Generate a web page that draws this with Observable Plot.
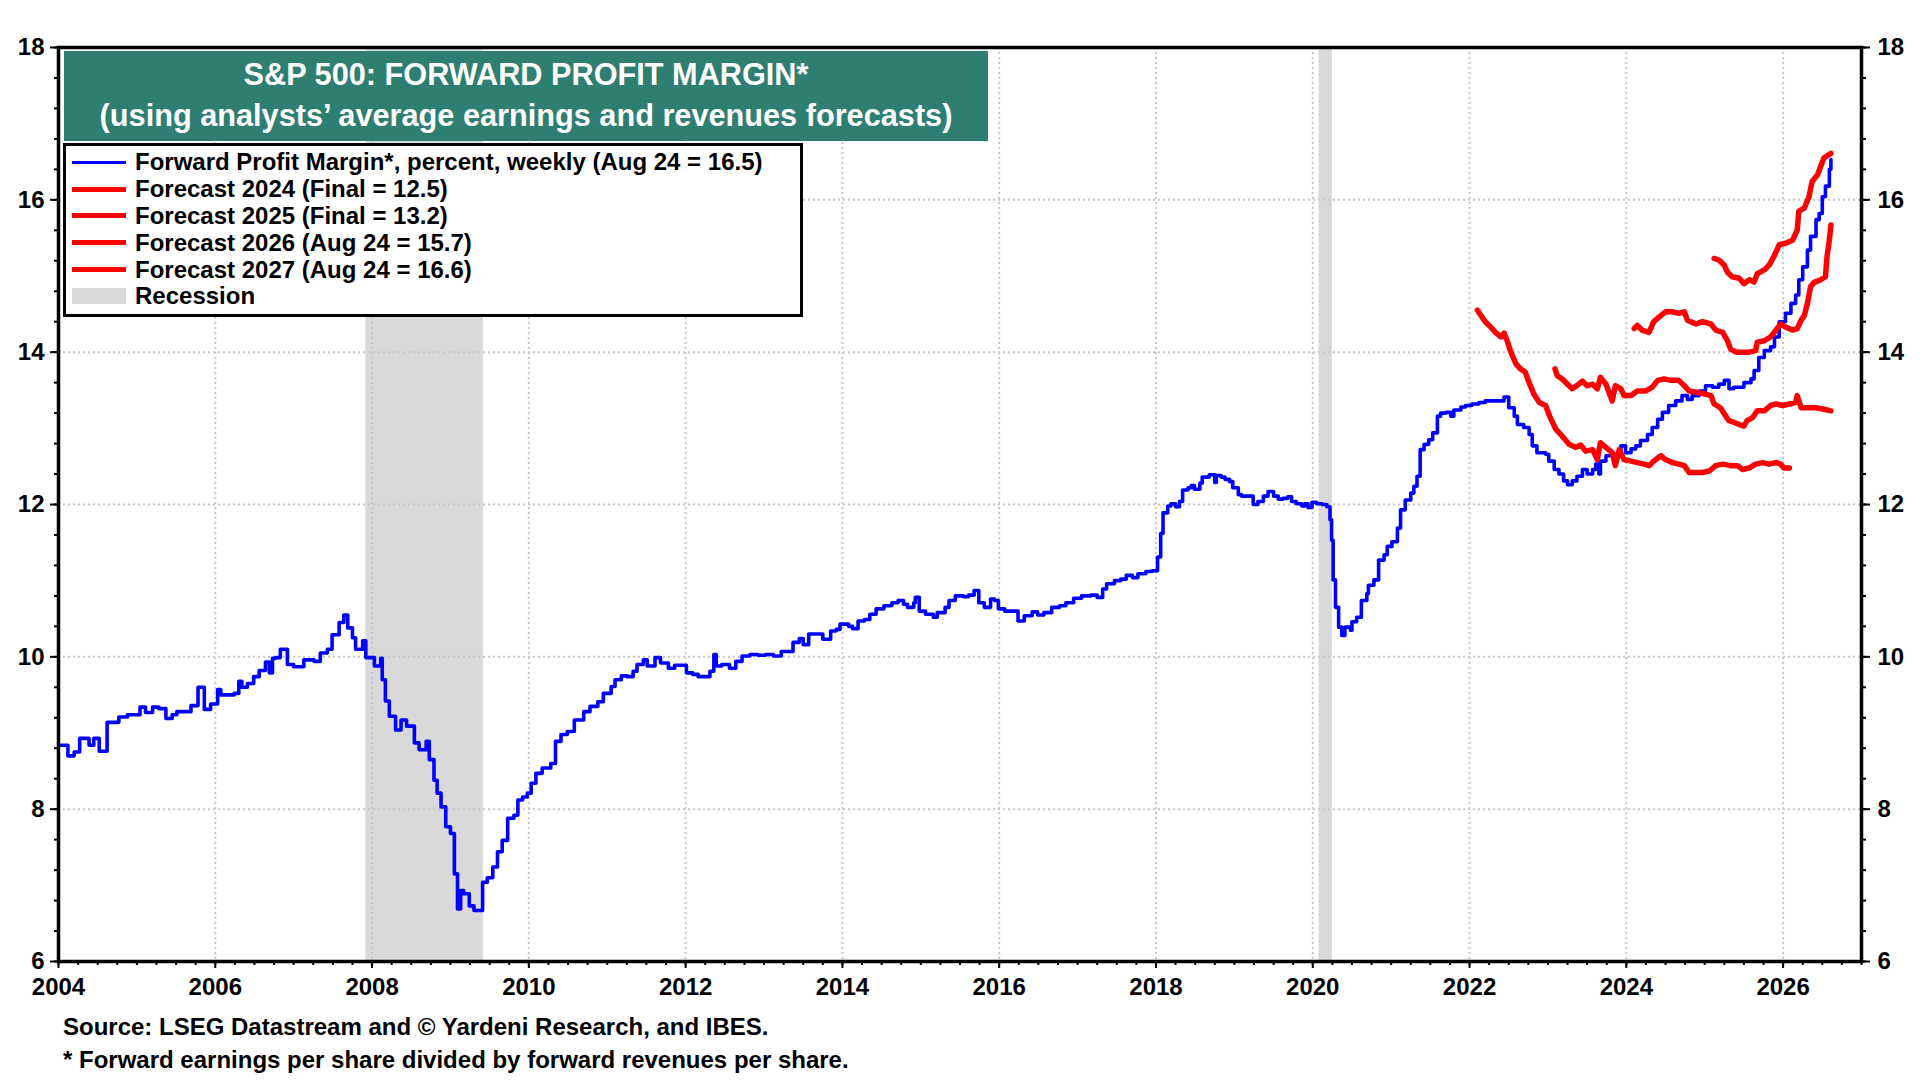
<!DOCTYPE html>
<html><head><meta charset="utf-8">
<script src="https://cdn.jsdelivr.net/npm/d3@7"></script>
<script src="https://cdn.jsdelivr.net/npm/@observablehq/plot@0.6"></script>
<style>
body{margin:0;background:#fff;}
#wrap{position:relative;width:1920px;height:1080px;overflow:hidden;font-family:"Liberation Sans",Arial,sans-serif;font-weight:bold;color:#000}
#chart{position:absolute;left:0;top:0}
#title{position:absolute;left:64px;top:51px;width:924px;height:90px;background:#2e7e71;color:#fff;text-align:center;font-size:30.7px;line-height:41px;padding-top:3px;box-sizing:border-box}
#legend{position:absolute;left:63px;top:143px;width:740px;height:174px;border:3px solid #000;background:#fff;box-sizing:border-box;padding-top:3px;padding-left:6px}
.row{height:26.8px;display:flex;align-items:center;font-size:24px;white-space:nowrap}
.sw{width:54px;margin-right:9px;flex:none}
#caption{position:absolute;left:63px;top:1010px;font-size:24px;line-height:33px}
</style></head>
<body><div id="wrap"><div id="chart"></div>
<div id="title"></div>
<div id="legend"></div>
<div id="caption"></div>
</div>
<script>
// ---- Data (decimal year, percent) ----
const forwardMargin = [
[2004.03,8.84],[2004.12,8.70],[2004.20,8.75],[2004.27,8.93],[2004.39,8.84],[2004.45,8.93],[2004.52,8.76],[2004.62,9.14],[2004.77,9.21],[2004.88,9.24],
[2005.04,9.34],[2005.11,9.27],[2005.20,9.34],[2005.28,9.32],[2005.37,9.19],[2005.45,9.24],[2005.51,9.28],[2005.69,9.36],[2005.78,9.60],[2005.86,9.31],[2005.94,9.38],
[2006.03,9.57],[2006.07,9.50],[2006.24,9.52],[2006.30,9.68],[2006.34,9.60],[2006.41,9.65],[2006.49,9.74],[2006.56,9.82],[2006.64,9.93],[2006.69,9.79],[2006.73,9.98],[2006.77,9.99],[2006.83,10.10],[2006.92,9.90],
[2007.00,9.87],[2007.13,9.96],[2007.26,9.94],[2007.34,10.05],[2007.43,10.10],[2007.49,10.29],[2007.58,10.45],[2007.64,10.55],[2007.69,10.38],[2007.75,10.25],[2007.79,10.10],[2007.88,10.21],[2007.92,9.99],
[2008.03,9.88],[2008.11,9.98],[2008.13,9.70],[2008.17,9.42],[2008.22,9.22],[2008.30,9.04],[2008.37,9.17],[2008.44,9.09],[2008.54,8.87],[2008.60,8.78],[2008.69,8.89],[2008.73,8.65],[2008.79,8.38],[2008.83,8.21],[2008.88,8.03],[2008.94,7.77],
[2009.00,7.68],[2009.05,7.15],[2009.09,6.69],[2009.13,6.93],[2009.17,6.89],[2009.24,6.73],[2009.30,6.67],[2009.39,6.67],[2009.41,7.04],[2009.47,7.10],[2009.54,7.24],[2009.60,7.44],[2009.66,7.59],[2009.73,7.88],[2009.81,7.92],[2009.86,8.12],[2009.92,8.16],[2009.98,8.21],
[2010.03,8.34],[2010.09,8.47],[2010.17,8.54],[2010.28,8.60],[2010.34,8.89],[2010.41,8.98],[2010.49,9.02],[2010.58,9.17],[2010.70,9.28],[2010.78,9.35],[2010.88,9.41],[2010.95,9.52],
[2011.05,9.61],[2011.10,9.70],[2011.18,9.75],[2011.25,9.74],[2011.33,9.81],[2011.38,9.90],[2011.46,9.96],[2011.51,9.88],[2011.61,9.99],[2011.68,9.92],[2011.78,9.85],[2011.86,9.89],[2011.96,9.89],
[2012.01,9.79],[2012.09,9.77],[2012.16,9.74],[2012.24,9.74],[2012.31,9.81],[2012.36,10.03],[2012.39,9.88],[2012.46,9.90],[2012.56,9.85],[2012.64,9.94],[2012.72,10.01],[2012.82,10.03],[2012.92,10.02],
[2013.02,10.03],[2013.12,10.01],[2013.22,10.07],[2013.32,10.07],[2013.37,10.19],[2013.45,10.24],[2013.50,10.16],[2013.57,10.30],[2013.70,10.30],[2013.75,10.23],[2013.85,10.34],[2013.92,10.36],[2013.97,10.43],
[2014.08,10.40],[2014.13,10.37],[2014.20,10.47],[2014.28,10.49],[2014.35,10.56],[2014.43,10.63],[2014.53,10.67],[2014.63,10.71],[2014.71,10.74],[2014.78,10.69],[2014.83,10.65],[2014.91,10.71],[2014.93,10.78],[2014.98,10.60],
[2015.06,10.56],[2015.16,10.52],[2015.21,10.58],[2015.31,10.65],[2015.36,10.74],[2015.44,10.80],[2015.54,10.79],[2015.61,10.81],[2015.68,10.87],[2015.74,10.71],[2015.81,10.65],[2015.89,10.76],[2015.94,10.74],[2015.99,10.63],
[2016.07,10.60],[2016.17,10.60],[2016.24,10.47],[2016.32,10.54],[2016.42,10.59],[2016.49,10.55],[2016.57,10.58],[2016.67,10.65],[2016.77,10.67],[2016.85,10.71],[2016.95,10.77],
[2017.05,10.80],[2017.17,10.81],[2017.25,10.78],[2017.32,10.89],[2017.37,10.96],[2017.47,11.00],[2017.55,11.02],[2017.62,11.07],[2017.70,11.04],[2017.77,11.09],[2017.87,11.12],[2017.95,11.13],
[2018.02,11.31],[2018.06,11.62],[2018.09,11.89],[2018.15,11.98],[2018.19,12.01],[2018.25,11.97],[2018.30,12.04],[2018.34,12.19],[2018.41,12.22],[2018.45,12.25],[2018.49,12.20],[2018.56,12.28],[2018.59,12.36],[2018.68,12.39],[2018.75,12.29],[2018.77,12.38],[2018.83,12.36],[2018.88,12.33],[2018.94,12.30],[2018.98,12.22],
[2019.05,12.13],[2019.09,12.11],[2019.15,12.11],[2019.20,12.11],[2019.24,12.00],[2019.30,12.04],[2019.37,12.11],[2019.41,12.11],[2019.43,12.17],[2019.50,12.11],[2019.56,12.07],[2019.62,12.08],[2019.68,12.10],[2019.73,12.04],[2019.79,12.01],[2019.86,11.98],[2019.90,12.01],[2019.94,11.96],[2019.99,12.03],
[2020.05,12.01],[2020.12,12.00],[2020.18,11.97],[2020.22,11.80],[2020.24,11.53],[2020.26,11.01],[2020.29,10.65],[2020.33,10.39],[2020.37,10.28],[2020.41,10.39],[2020.48,10.35],[2020.50,10.46],[2020.56,10.52],[2020.62,10.74],[2020.69,10.83],[2020.71,10.94],[2020.78,11.01],[2020.84,11.27],[2020.91,11.34],[2020.95,11.45],
[2021.01,11.51],[2021.08,11.69],[2021.12,11.93],[2021.18,12.06],[2021.25,12.15],[2021.29,12.24],[2021.33,12.37],[2021.37,12.72],[2021.42,12.79],[2021.48,12.85],[2021.53,12.94],[2021.59,13.16],[2021.63,13.20],[2021.70,13.21],[2021.76,13.16],[2021.80,13.24],[2021.89,13.28],[2021.95,13.30],
[2022.03,13.32],[2022.12,13.34],[2022.20,13.36],[2022.29,13.36],[2022.37,13.36],[2022.44,13.41],[2022.50,13.27],[2022.57,13.16],[2022.61,13.05],[2022.69,13.01],[2022.76,12.92],[2022.80,12.77],[2022.86,12.68],[2022.97,12.66],
[2023.01,12.57],[2023.08,12.46],[2023.14,12.40],[2023.20,12.31],[2023.25,12.26],[2023.31,12.31],[2023.37,12.37],[2023.44,12.46],[2023.50,12.40],[2023.57,12.46],[2023.61,12.53],[2023.65,12.40],[2023.67,12.57],[2023.74,12.64],[2023.82,12.66],[2023.93,12.77],[2023.99,12.68],
[2024.06,12.73],[2024.12,12.77],[2024.18,12.84],[2024.27,12.92],[2024.33,13.01],[2024.40,13.12],[2024.46,13.21],[2024.54,13.30],[2024.63,13.36],[2024.71,13.43],[2024.78,13.38],[2024.84,13.43],[2024.93,13.49],
[2025.01,13.56],[2025.10,13.54],[2025.18,13.58],[2025.25,13.63],[2025.31,13.52],[2025.37,13.54],[2025.44,13.54],[2025.50,13.60],[2025.59,13.65],[2025.63,13.76],[2025.69,13.93],[2025.76,14.02],[2025.84,14.07],[2025.89,14.20],[2025.95,14.40],
[2026.03,14.51],[2026.10,14.64],[2026.16,14.75],[2026.20,14.95],[2026.25,15.12],[2026.31,15.34],[2026.35,15.52],[2026.42,15.74],[2026.46,15.82],[2026.50,16.04],[2026.54,16.18],[2026.59,16.40],[2026.61,16.53]
];
const forecast2024 = [
[2022.10,14.55],[2022.16,14.46],[2022.20,14.40],[2022.27,14.33],[2022.33,14.26],[2022.40,14.20],[2022.44,14.25],[2022.48,14.15],[2022.52,14.02],[2022.59,13.85],[2022.65,13.78],[2022.71,13.74],[2022.76,13.60],[2022.82,13.45],[2022.89,13.34],[2022.97,13.30],
[2023.03,13.14],[2023.10,12.99],[2023.18,12.90],[2023.27,12.79],[2023.35,12.75],[2023.42,12.78],[2023.48,12.70],[2023.57,12.72],[2023.63,12.59],[2023.67,12.81],[2023.74,12.75],[2023.82,12.68],[2023.86,12.51],[2023.91,12.72],[2023.97,12.59],
[2024.06,12.57],[2024.14,12.55],[2024.23,12.53],[2024.29,12.51],[2024.35,12.57],[2024.44,12.64],[2024.50,12.59],[2024.59,12.55],[2024.67,12.53],[2024.74,12.51],[2024.80,12.42],[2024.89,12.42],[2024.97,12.42],
[2025.06,12.44],[2025.14,12.51],[2025.23,12.53],[2025.33,12.51],[2025.42,12.51],[2025.48,12.46],[2025.57,12.48],[2025.65,12.53],[2025.74,12.55],[2025.82,12.53],[2025.91,12.55],[2025.97,12.53],[2026.01,12.48],[2026.08,12.48]
];
const forecast2025 = [
[2023.09,13.78],[2023.12,13.69],[2023.18,13.65],[2023.25,13.58],[2023.31,13.52],[2023.37,13.56],[2023.44,13.62],[2023.50,13.56],[2023.57,13.58],[2023.63,13.52],[2023.67,13.67],[2023.74,13.58],[2023.82,13.36],[2023.86,13.56],[2023.93,13.52],[2023.97,13.43],
[2024.06,13.43],[2024.14,13.49],[2024.25,13.49],[2024.33,13.54],[2024.40,13.63],[2024.48,13.65],[2024.57,13.63],[2024.67,13.63],[2024.74,13.56],[2024.80,13.49],[2024.91,13.47],
[2025.01,13.45],[2025.08,13.43],[2025.12,13.32],[2025.20,13.27],[2025.27,13.16],[2025.31,13.10],[2025.37,13.08],[2025.44,13.05],[2025.50,13.03],[2025.54,13.10],[2025.61,13.14],[2025.67,13.23],[2025.76,13.23],[2025.84,13.30],[2025.91,13.32],[2025.99,13.30],
[2026.08,13.32],[2026.16,13.34],[2026.18,13.43],[2026.23,13.27],[2026.31,13.27],[2026.42,13.27],[2026.52,13.25],[2026.61,13.23]
];
const forecast2026 = [
[2024.10,14.31],[2024.14,14.35],[2024.20,14.29],[2024.29,14.26],[2024.35,14.40],[2024.44,14.48],[2024.50,14.53],[2024.59,14.53],[2024.67,14.51],[2024.74,14.53],[2024.78,14.42],[2024.89,14.37],[2024.97,14.40],
[2025.08,14.37],[2025.14,14.29],[2025.23,14.26],[2025.29,14.15],[2025.33,14.04],[2025.40,14.00],[2025.48,14.00],[2025.57,14.00],[2025.65,14.02],[2025.67,14.13],[2025.76,14.15],[2025.84,14.20],[2025.91,14.29],[2025.97,14.37],
[2026.03,14.33],[2026.12,14.29],[2026.18,14.31],[2026.23,14.42],[2026.27,14.48],[2026.31,14.64],[2026.35,14.86],[2026.40,14.92],[2026.48,14.95],[2026.54,14.99],[2026.56,15.25],[2026.59,15.47],[2026.61,15.67]
];
const forecast2027 = [
[2025.12,15.23],[2025.18,15.21],[2025.25,15.14],[2025.29,15.05],[2025.35,14.99],[2025.44,14.97],[2025.50,14.90],[2025.57,14.95],[2025.63,14.92],[2025.67,15.03],[2025.76,15.08],[2025.82,15.14],[2025.89,15.27],[2025.95,15.41],
[2026.03,15.43],[2026.12,15.47],[2026.18,15.60],[2026.20,15.85],[2026.27,15.89],[2026.33,16.04],[2026.37,16.24],[2026.44,16.33],[2026.48,16.44],[2026.52,16.55],[2026.61,16.61]
];
const recessions = [{start: 2007.92, end: 2009.42}, {start: 2020.08, end: 2020.25}];
const xTickYears = [2004,2006,2008,2010,2012,2014,2016,2018,2020,2022,2024,2026];
const yTickValues = [6,8,10,12,14,16,18];
const titleLines = ["S&P 500: FORWARD PROFIT MARGIN*", "(using analysts’ average earnings and revenues forecasts)"];
const legendItems = [
  {label: "Forward Profit Margin*, percent, weekly (Aug 24 = 16.5)", kind: "blue"},
  {label: "Forecast 2024 (Final = 12.5)", kind: "red"},
  {label: "Forecast 2025 (Final = 13.2)", kind: "red"},
  {label: "Forecast 2026 (Aug 24 = 15.7)", kind: "red"},
  {label: "Forecast 2027 (Aug 24 = 16.6)", kind: "red"},
  {label: "Recession", kind: "rec"}
];
const captionLines = ["Source: LSEG Datastream and © Yardeni Research, and IBES.", "* Forward earnings per share divided by forward revenues per share."];

// ---- Styling ----
const BLUE = "#0000ff", RED = "#ff0000", REC = "#d9d9d9", GRID = "#c8c8c8";
const xMinor = d3.range(0, 23 * 4 + 1).map(i => 2004 + i / 4);
const yMinor = d3.range(0, 31).map(i => +(6 + i * 0.4).toFixed(1));
const gridX = xTickYears.slice(1);
const gridY = yTickValues.slice(1, -1);

const chart = Plot.plot({
  width: 1920, height: 1005,
  marginLeft: 58, marginRight: 59, marginTop: 47, marginBottom: 44,
  style: {fontFamily: '"Liberation Sans", Arial, sans-serif', fontSize: "24px", fontWeight: "bold", background: "transparent", color: "#000"},
  x: {domain: [2004, 2027], label: null},
  y: {domain: [6, 18], label: null},
  marks: [
    Plot.rect(recessions, {x1: "start", x2: "end", fill: REC}),
    Plot.gridX(gridX, {stroke: GRID, strokeOpacity: 1, strokeWidth: 2, strokeDasharray: "2,3"}),
    Plot.gridY(gridY, {stroke: GRID, strokeOpacity: 1, strokeWidth: 2, strokeDasharray: "2,3"}),
    Plot.line(forwardMargin, {stroke: BLUE, strokeWidth: 3.6, curve: "step-after", strokeLinejoin: "round"}),
    Plot.line(forecast2024, {stroke: RED, strokeWidth: 5.5, strokeLinejoin: "round"}),
    Plot.line(forecast2025, {stroke: RED, strokeWidth: 5.5, strokeLinejoin: "round"}),
    Plot.line(forecast2026, {stroke: RED, strokeWidth: 5.5, strokeLinejoin: "round"}),
    Plot.line(forecast2027, {stroke: RED, strokeWidth: 5.5, strokeLinejoin: "round"}),
    Plot.axisX(xMinor, {tickSize: 4, strokeWidth: 2, tickFormat: () => "", label: null}),
    Plot.axisX(xTickYears, {tickSize: 7, strokeWidth: 2, tickPadding: 9, tickFormat: d => String(d), label: null}),
    Plot.axisY(yMinor, {anchor: "left", tickSize: 4, strokeWidth: 2, tickFormat: () => "", label: null}),
    Plot.axisY(yTickValues, {anchor: "left", tickSize: 8, strokeWidth: 2, tickPadding: 6, tickFormat: d => String(d), label: null}),
    Plot.axisY(yMinor, {anchor: "right", tickSize: 4, strokeWidth: 2, tickFormat: () => "", label: null}),
    Plot.axisY(yTickValues, {anchor: "right", tickSize: 8, strokeWidth: 2, tickPadding: 8, tickFormat: d => String(d), label: null}),
    Plot.frame({stroke: "#000", strokeWidth: 3.5})
  ]
});
document.getElementById("chart").appendChild(chart);

// ---- Title, legend, caption ----
document.getElementById("title").innerHTML = titleLines.map(t => `<div>${t.replace(/&/g, "&amp;")}</div>`).join("");
document.getElementById("legend").innerHTML = legendItems.map(it => {
  let sw;
  if (it.kind === "blue") sw = `<div class="sw" style="height:3px;background:${BLUE}"></div>`;
  else if (it.kind === "red") sw = `<div class="sw" style="height:5px;background:${RED}"></div>`;
  else sw = `<div class="sw" style="height:16px;background:${REC}"></div>`;
  return `<div class="row">${sw}<span>${it.label}</span></div>`;
}).join("");
document.getElementById("caption").innerHTML = captionLines.map(t => `<div>${t}</div>`).join("");
</script>
</body></html>
